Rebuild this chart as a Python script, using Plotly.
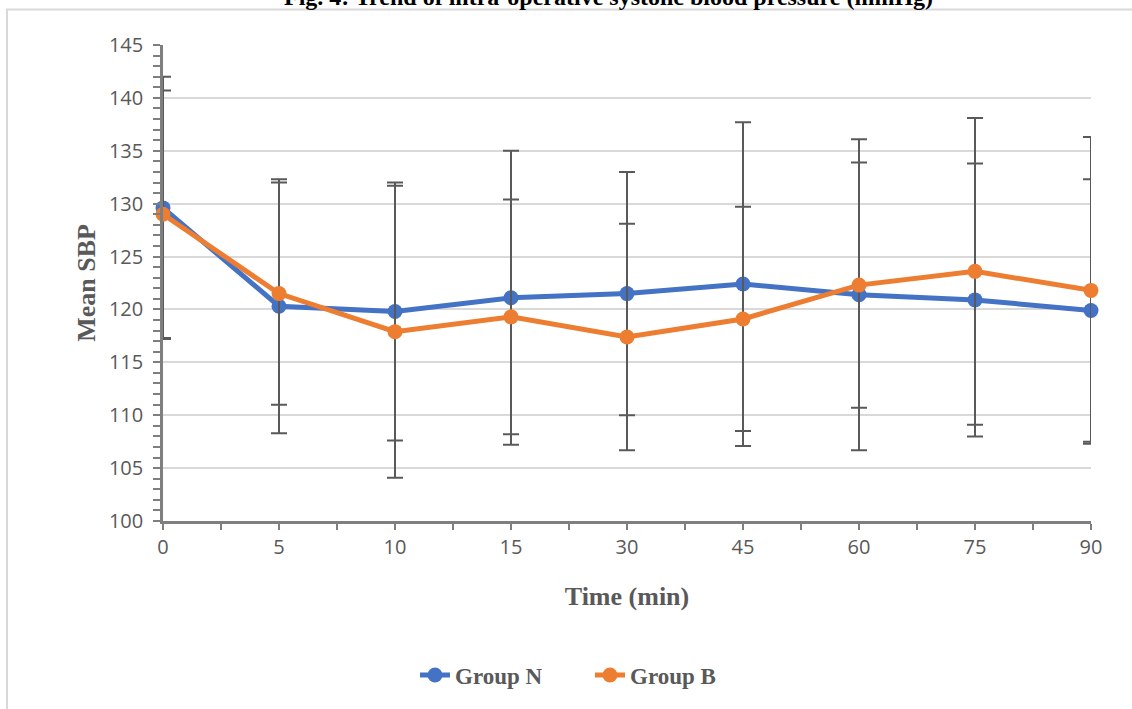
import plotly.graph_objects as go

time_labels = ["0", "5", "10", "15", "30", "45", "60", "75", "90"]
group_n_mean = [129.6, 120.3, 119.8, 121.1, 121.5, 122.4, 121.4, 120.9, 119.9]
group_n_sd = [12.4, 12.0, 12.2, 13.9, 11.5, 15.3, 14.7, 12.9, 12.4]
group_b_mean = [129.0, 121.5, 117.9, 119.3, 117.4, 119.1, 122.3, 123.6, 121.8]
group_b_sd = [11.7, 10.5, 13.8, 11.1, 10.7, 10.6, 11.6, 14.5, 14.5]

xpos = list(range(len(time_labels)))

W, H = 1132, 709
L, R, T, B = 163, 41, 45, 182
pw, ph = W - L - R, H - T - B

def px(x):
    return (x - L) / pw

def py(y):
    return (H - B - y) / ph

err_color = "#595959"
fig = go.Figure()
fig.add_trace(go.Scatter(
    x=xpos, y=group_n_mean, name="Group N", mode="lines+markers",
    line=dict(color="#4472C4", width=5),
    marker=dict(size=15, color="#4472C4"),
    cliponaxis=False,
    error_y=dict(type="data", array=group_n_sd, symmetric=True,
                 color=err_color, thickness=2, width=8),
))
fig.add_trace(go.Scatter(
    x=xpos, y=group_b_mean, name="Group B", mode="lines+markers",
    line=dict(color="#ED7D31", width=5),
    marker=dict(size=15, color="#ED7D31"),
    cliponaxis=False,
    error_y=dict(type="data", array=group_b_sd, symmetric=True,
                 color=err_color, thickness=2, width=8),
))

tick_font = dict(family="Open Sans", size=20, color="#595959")
title_font = dict(family="Liberation Serif", size=26, color="#595959", weight="bold")

fig.update_layout(
    width=W, height=H,
    margin=dict(l=L, r=R, t=T, b=B),
    paper_bgcolor="white", plot_bgcolor="white",
    showlegend=True,
    legend=dict(orientation="h", x=px(590), xanchor="center", y=py(683), yanchor="middle",
                font=dict(family="Liberation Serif", size=23, color="#595959", weight="bold"),
                entrywidth=130, entrywidthmode="pixels", bgcolor="rgba(0,0,0,0)"),
    xaxis=dict(
        range=[0, len(time_labels) - 1],
        tickmode="array", tickvals=xpos, ticktext=time_labels,
        showgrid=False, zeroline=False,
        showline=True, linecolor="#7F7F7F", linewidth=2.5,
        ticks="outside", ticklen=6, tickwidth=2, tickcolor="#7F7F7F",
        minor=dict(ticks="outside", dtick=0.5, tick0=0, ticklen=6, tickwidth=2, tickcolor="#7F7F7F", showgrid=False),
        tickfont=tick_font,
        title=dict(text="Time (min)", font=title_font, standoff=29),
    ),
    yaxis=dict(
        range=[100, 145], dtick=5, tick0=100,
        showgrid=True, gridcolor="#D9D9D9", gridwidth=1.5,
        zeroline=False,
        showline=True, linecolor="#7F7F7F", linewidth=2.5,
        ticks="outside", ticklen=7, tickwidth=2, tickcolor="#7F7F7F",
        minor=dict(ticks="outside", dtick=1, ticklen=7, tickwidth=2, tickcolor="#7F7F7F", showgrid=False),
        tickfont=tick_font, ticklabelstandoff=6,
        title=dict(text="Mean SBP", font=title_font, standoff=6),
    ),
    shapes=[dict(type="rect", xref="paper", yref="paper",
                 x0=px(7), x1=px(1140), y0=py(720), y1=py(9),
                 line=dict(color="#D9D9D9", width=2), fillcolor="rgba(0,0,0,0)", layer="below")],
    annotations=[dict(text="<b>Fig. 4: Trend of intra-operative systolic blood pressure (mmHg)</b>",
                      xref="paper", yref="paper", x=px(608), y=py(-4), xanchor="center", yanchor="middle",
                      showarrow=False,
                      font=dict(family="Liberation Serif", size=24, color="black"))],
)

fig.write_html("out.html")
